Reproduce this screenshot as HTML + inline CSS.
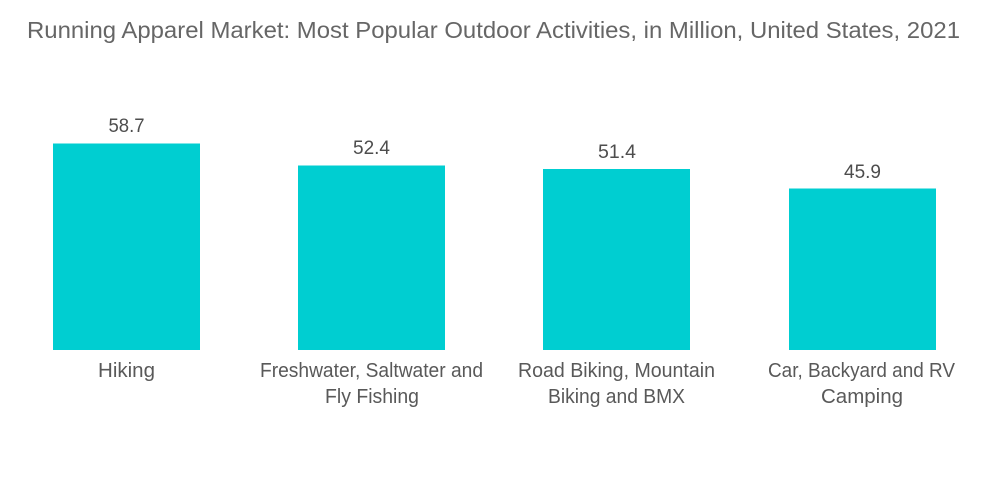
<!DOCTYPE html>
<html>
<head>
<meta charset="utf-8">
<style>
  html, body { margin: 0; padding: 0; background: #ffffff; }
  svg { display: block; }
  text { font-family: "Liberation Sans", "DejaVu Sans", sans-serif; }
</style>
</head>
<body>
<svg width="1000" height="504" viewBox="0 0 1000 504" xmlns="http://www.w3.org/2000/svg">
  <rect x="0" y="0" width="1000" height="504" fill="#ffffff"/>

  <!-- Title -->
  <text x="27" y="38" font-size="23" fill="#666666" textLength="933" lengthAdjust="spacingAndGlyphs">Running Apparel Market: Most Popular Outdoor Activities, in Million, United States, 2021</text>

  <!-- Bars -->
  <rect x="53" y="143.5" width="147" height="206.5" fill="#00CED1"/>
  <rect x="298" y="165.5" width="147" height="184.5" fill="#00CED1"/>
  <rect x="543" y="169" width="147" height="181" fill="#00CED1"/>
  <rect x="789" y="188.5" width="147" height="161.5" fill="#00CED1"/>

  <!-- Value labels -->
  <g font-size="19" fill="#4d4d4d" text-anchor="middle">
    <text x="126.5" y="132" textLength="36" lengthAdjust="spacingAndGlyphs">58.7</text>
    <text x="371.5" y="154" textLength="37" lengthAdjust="spacingAndGlyphs">52.4</text>
    <text x="617" y="158" textLength="38" lengthAdjust="spacingAndGlyphs">51.4</text>
    <text x="862.5" y="178" textLength="37" lengthAdjust="spacingAndGlyphs">45.9</text>
  </g>

  <!-- Category labels -->
  <g font-size="20" fill="#595959" text-anchor="middle">
    <text x="126.5" y="377" textLength="57" lengthAdjust="spacingAndGlyphs">Hiking</text>
    <text x="371.5" y="377" textLength="223" lengthAdjust="spacingAndGlyphs">Freshwater, Saltwater and</text>
    <text x="372" y="403" textLength="94" lengthAdjust="spacingAndGlyphs">Fly Fishing</text>
    <text x="616.5" y="377" textLength="197" lengthAdjust="spacingAndGlyphs">Road Biking, Mountain</text>
    <text x="616.5" y="403" textLength="137" lengthAdjust="spacingAndGlyphs">Biking and BMX</text>
    <text x="861.5" y="377" textLength="187" lengthAdjust="spacingAndGlyphs">Car, Backyard and RV</text>
    <text x="862" y="403" textLength="82" lengthAdjust="spacingAndGlyphs">Camping</text>
  </g>
</svg>
</body>
</html>
